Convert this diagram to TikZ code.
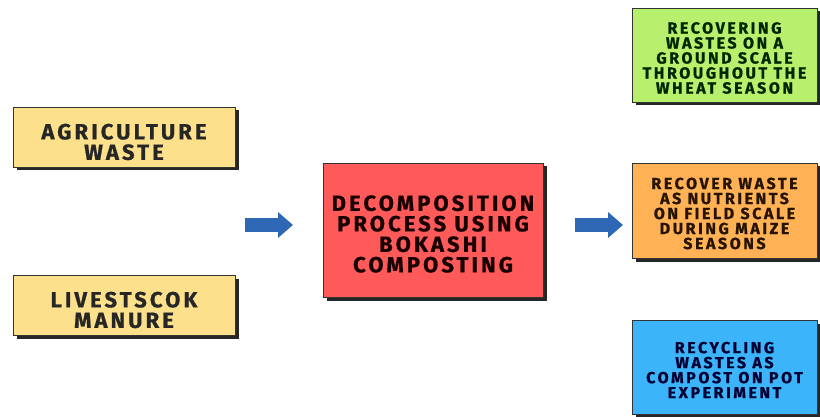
\documentclass[tikz,border=0pt]{standalone}
\usepackage{fontspec}
\setmainfont{Fira Sans}
\newfontfamily\bigf{Fira Sans}[LetterSpace=14,BoldFeatures={FakeBold=0.8}]
\newfontfamily\smallf{Fira Sans}[LetterSpace=16,BoldFeatures={FakeBold=0.8}]
\usetikzlibrary{shadows,arrows.meta}
\definecolor{yel}{HTML}{FCE08C}
\definecolor{redb}{HTML}{FF5A5A}
\definecolor{grn}{HTML}{B6F06C}
\definecolor{org}{HTML}{FFB155}
\definecolor{blu}{HTML}{3BB4FA}
\definecolor{arr}{HTML}{2E68B4}
\begin{document}
\begin{tikzpicture}[x=1pt,y=1pt,
  card/.style={draw=black!80,line width=0.6pt,inner sep=0pt,
    drop shadow={shadow xshift=3.5pt,shadow yshift=-3.5pt,opacity=1,fill=black!85}},
  bigtxt/.style={align=center,font=\bigf\fontsize{22}{20.5}\selectfont\bfseries},
  smalltxt/.style={align=center,font=\smallf\fontsize{16}{15}\selectfont\bfseries},
  flow/.style={arr,line width=14pt,-{Triangle[length=15pt,width=25pt]}}]
\useasboundingbox (0,0) rectangle (820,-417);
% left inputs
\node[card,fill=yel,minimum width=222pt,minimum height=60pt,
  label={[bigtxt,text=black!85,yshift=-5pt]center:{AGRICULTURE\\WASTE}}] (agri) at (124,-137) {};
\node[card,fill=yel,minimum width=222pt,minimum height=60pt,
  label={[bigtxt,text=black!85,yshift=-5pt]center:{LIVESTSCOK\\MANURE}}] (live) at (124,-305) {};
% center
\node[card,fill=redb,minimum width=220pt,minimum height=134pt,
  label={[bigtxt,text=black!90!red,yshift=-4pt]center:{DECOMPOSITION\\PROCESS USING\\BOKASHI\\COMPOSTING}}] (dec) at (433,-230) {};
% outputs
\node[card,fill=grn,minimum width=185pt,minimum height=94pt,
  label={[smalltxt,text=black!85!green,yshift=-3pt]center:{RECOVERING\\WASTES ON A\\GROUND SCALE\\THROUGHOUT THE\\WHEAT SEASON}}] (wheat) at (724.5,-55) {};
\node[card,fill=org,minimum width=185pt,minimum height=95pt,
  label={[smalltxt,text=black!85!orange,yshift=-3pt]center:{RECOVER WASTE\\AS NUTRIENTS\\ON FIELD SCALE\\DURING MAIZE\\SEASONS}}] (maize) at (724.5,-210.5) {};
\node[card,fill=blu,minimum width=185pt,minimum height=94pt,
  label={[smalltxt,text=black!80!blue,yshift=-3pt]center:{RECYCLING\\WASTES AS\\COMPOST ON POT\\EXPERIMENT}}] (pot) at (724.5,-367) {};
% arrows
\coordinate (a1s) at (245,-225);
\coordinate (a1e) at (293,-225);
\coordinate (a2s) at (575,-225);
\coordinate (a2e) at (623,-225);
\draw[flow] (a1s) -- (a1e);
\draw[flow] (a2s) -- (a2e);
\end{tikzpicture}
\end{document}
